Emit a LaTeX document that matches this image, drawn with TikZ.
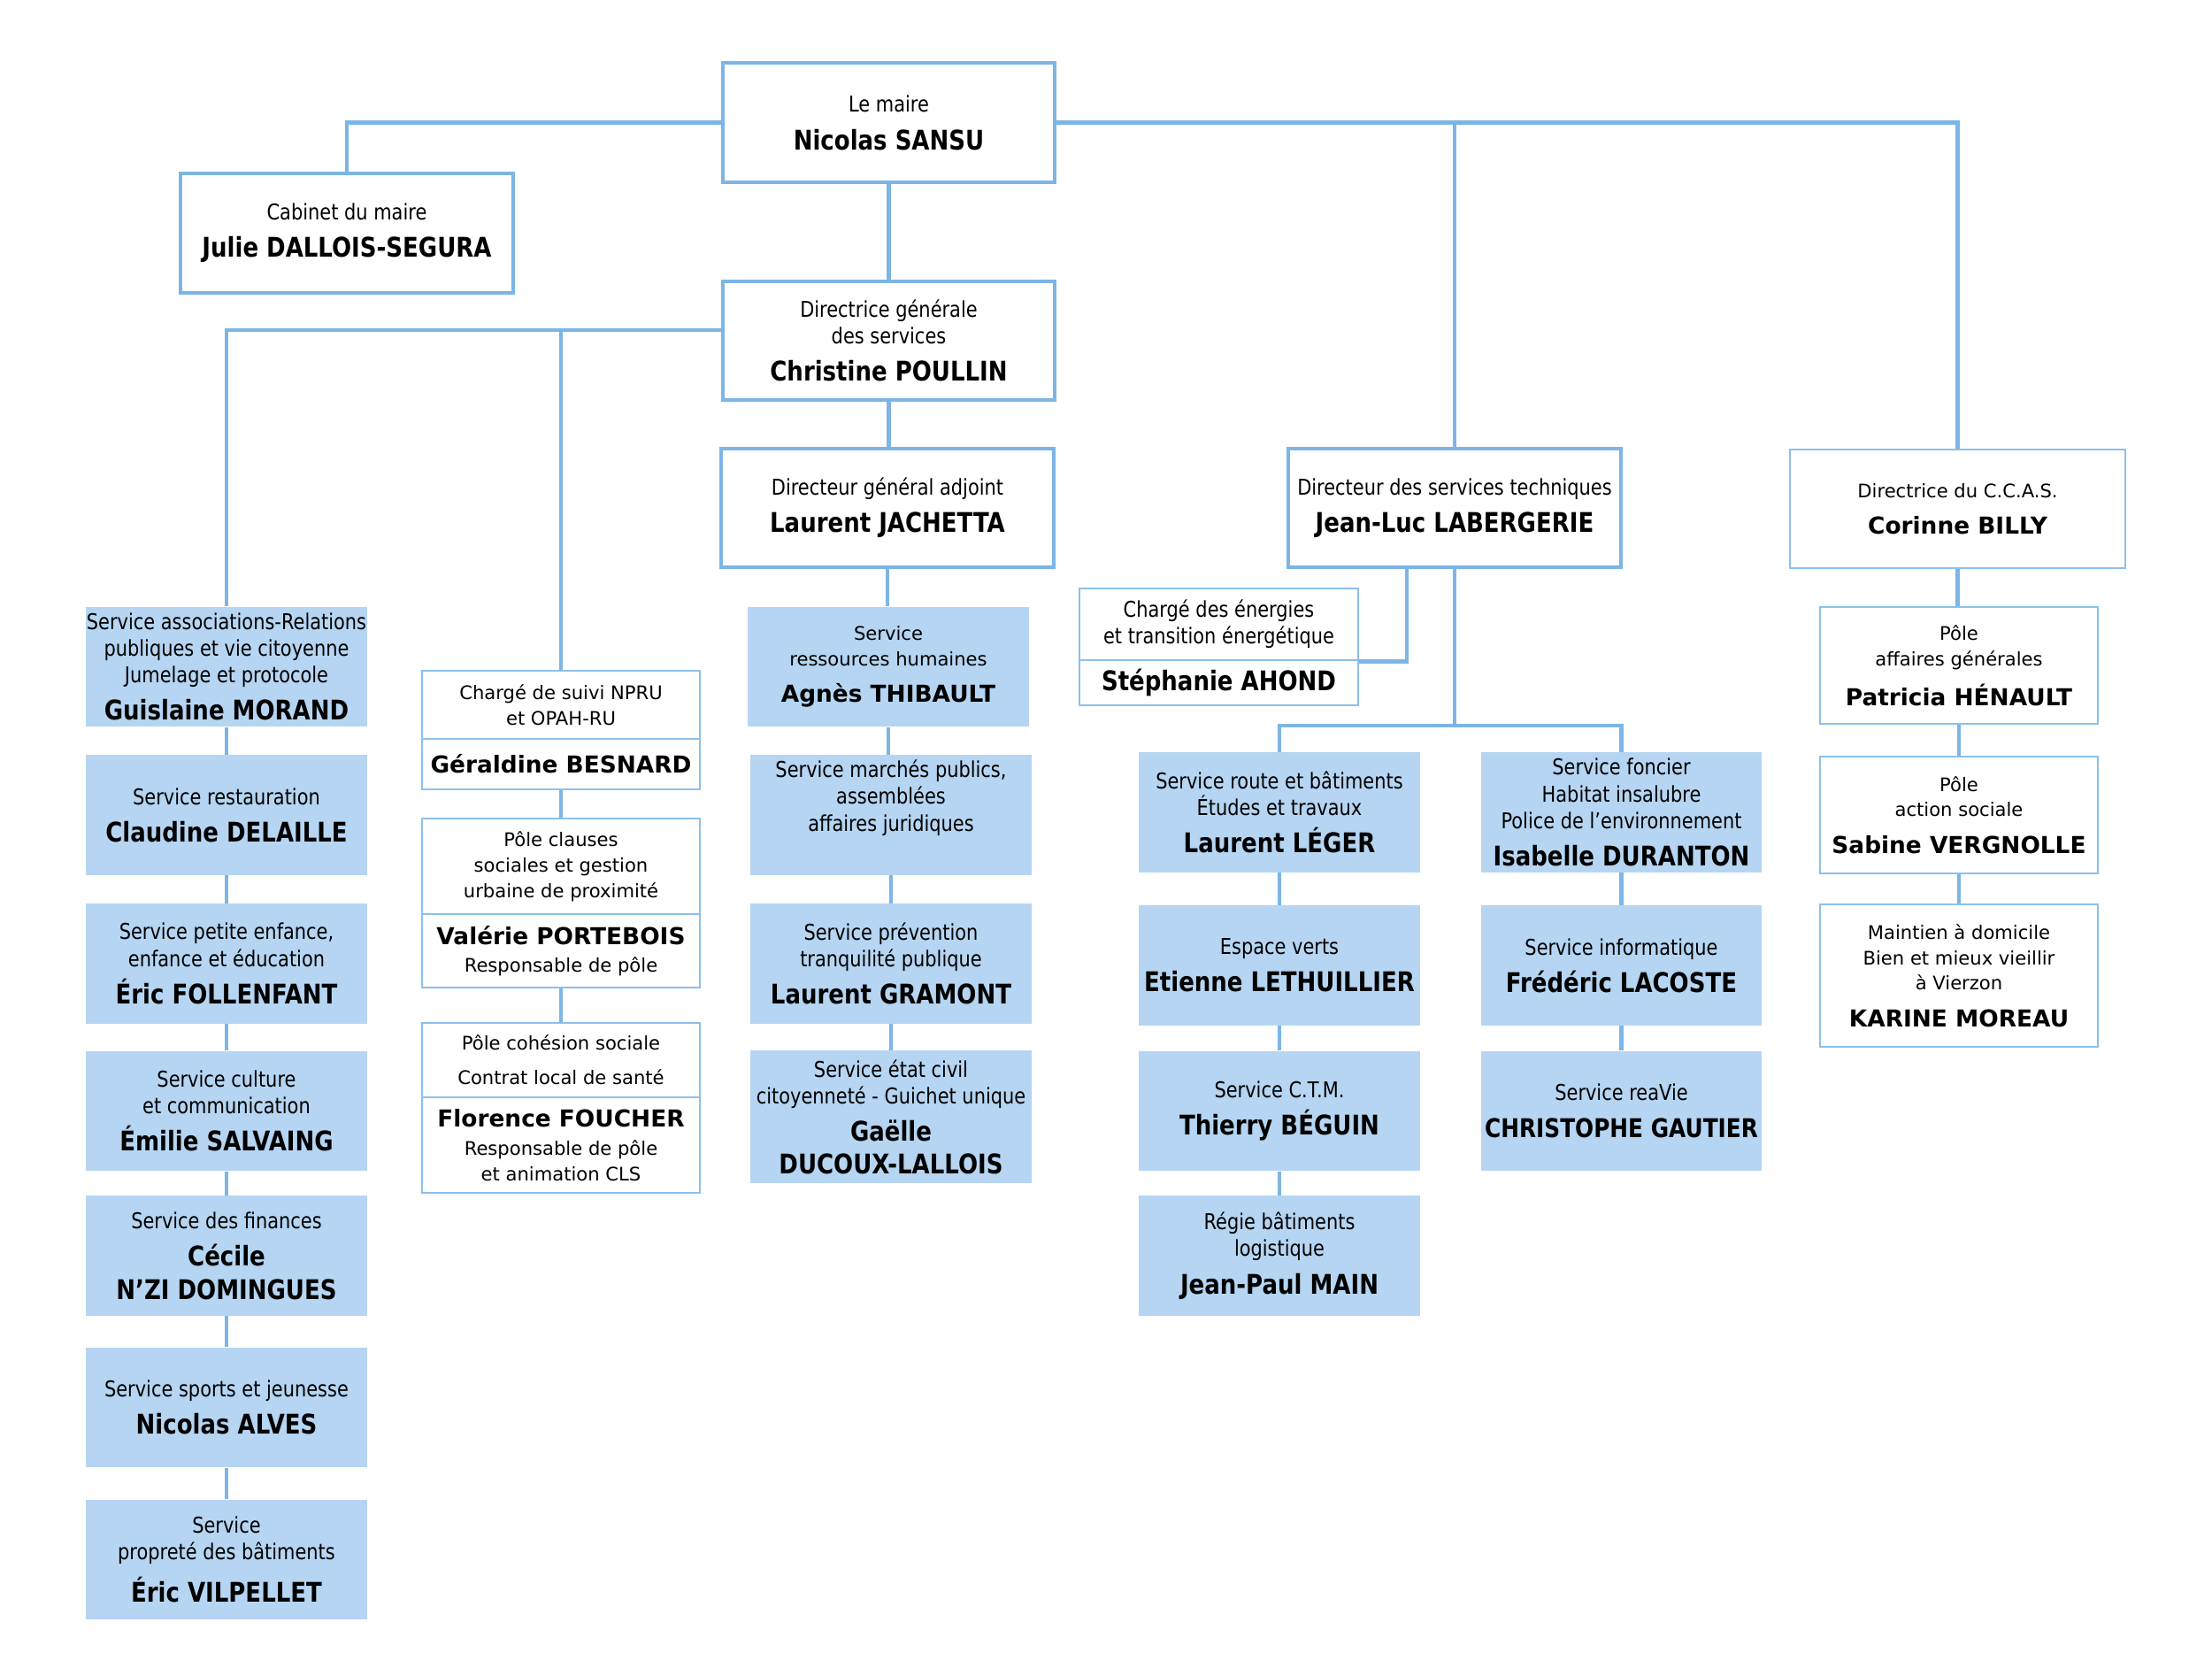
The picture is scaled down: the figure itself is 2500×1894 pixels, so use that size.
\documentclass[tikz,border=0pt]{standalone}
\usepackage{fontspec}
\newfontfamily\tahfont[FakeStretch=0.85]{DejaVu Sans}
\newfontfamily\verfont{DejaVu Sans}
\newcommand\tah{\tahfont\fontsize{7}{8.6}\selectfont}
\newcommand\ver{\verfont\fontsize{6}{8.2}\selectfont}
\newcommand\nm[1]{{\bfseries\fontsize{8.7}{10}\selectfont #1}}
\newcommand\vnm[1]{{\bfseries\fontsize{7.5}{9}\selectfont #1}}
\definecolor{linkblue}{RGB}{124,181,230}
\definecolor{thinblue}{RGB}{140,192,236}
\definecolor{svcblue}{RGB}{181,213,242}
\tikzset{
	link/.style={draw=linkblue,line width=1.3pt},
	chef/.style={draw=linkblue,line width=1.15pt,fill=white,minimum width=3.75cm,minimum height=1.34cm,inner sep=0pt,align=center,font=\tah},
	svc/.style={fill=svcblue,minimum width=3.17cm,minimum height=1.35cm,inner sep=0pt,align=center,font=\tah},
	pole/.style={draw=thinblue,line width=0.7pt,fill=white,minimum width=3.14cm,inner sep=0pt,align=center,font=\ver}
}

\begin{document}
\begin{tikzpicture}[x=0.01cm,y=-0.01cm]
		\useasboundingbox (0,0) rectangle (2500,1894);

		\node[chef] at (1004.5,138.5) (maire) {Le maire\\[3.6pt]\nm{Nicolas SANSU}};
		\node[chef,minimum width=3.76cm] at (392,263.5) (cab) {Cabinet du maire\\[3.4pt]\nm{Julie DALLOIS-SEGURA}};
		\node[chef] at (1004.5,385) (dgs) {Directrice générale\\des services\\[3.4pt]\nm{Christine POULLIN}};
		\node[chef] at (1003,574) (dga) {Directeur général adjoint\\[3.4pt]\nm{Laurent JACHETTA}};
		\node[chef,minimum width=3.76cm] at (1644,574) (dst) {Directeur des services techniques\\[3.4pt]\nm{Jean-Luc LABERGERIE}};
		\node[pole,minimum width=3.79cm,minimum height=1.34cm] at (2212.5,575) (ccas) {Directrice du C.C.A.S.\\[3.6pt]\vnm{Corinne BILLY}};

		\node[svc] at (256,753.5) (asso) {Service associations-Relations\\publiques et vie citoyenne\\Jumelage et protocole\\[3.4pt]\nm{Guislaine MORAND}};
		\node[svc] at (256,921) (resto) {Service restauration\\[3.4pt]\nm{Claudine DELAILLE}};
		\node[svc] at (256,1089) (enfance) {Service petite enfance,\\enfance et éducation\\[3.4pt]\nm{Éric FOLLENFANT}};
		\node[svc] at (256,1255.5) (culture) {Service culture\\et communication\\[3.4pt]\nm{Émilie SALVAING}};
		\node[svc] at (256,1419) (finances) {Service des finances\\[3.4pt]\nm{Cécile}\\[2.2pt]\nm{N’ZI DOMINGUES}};
		\node[svc] at (256,1590.5) (sports) {Service sports et jeunesse\\[3.4pt]\nm{Nicolas ALVES}};
		\node[svc] at (256,1762.5) (proprete) {Service\\propreté des bâtiments\\[3.2pt]\nm{Éric VILPELLET}};

		\node[pole,minimum height=0.77cm] at (634,796.5) (npru) {Chargé de suivi NPRU\\et OPAH-RU};
		\node[pole,minimum height=0.57cm] at (634,863.5) (npruB) {\vnm{Géraldine BESNARD}};
		\node[pole,minimum height=1.08cm] at (634,979) (clauses) {Pôle clauses\\sociales et gestion\\urbaine de proximité};
		\node[pole,minimum height=0.83cm] at (634,1074.5) (clausesB) {\vnm{Valérie PORTEBOIS}\\[0.8pt]Responsable de pôle};
		\node[pole,minimum height=0.84cm] at (634,1198) (cohesion) {Pôle cohésion sociale\\[3pt]Contrat local de santé};
		\node[pole,minimum height=1.08cm] at (634,1294) (cohesionB) {\vnm{Florence FOUCHER}\\[0.8pt]Responsable de pôle\\et animation CLS};

		\node[svc,font=\ver] at (1004,753.5) (rh) {Service\\ressources humaines\\[3.6pt]\vnm{Agnès THIBAULT}};
		\node[svc,text depth=12.5pt] at (1007,921) (marches) {Service marchés publics,\\assemblées\\affaires juridiques};
		\node[svc] at (1007,1089) (prevention) {Service prévention\\tranquilité publique\\[3.4pt]\nm{Laurent GRAMONT}};
		\node[svc,minimum height=1.49cm] at (1007,1262) (etatcivil) {Service état civil\\citoyenneté - Guichet unique\\[3.4pt]\nm{Gaëlle}\\[1.8pt]\nm{DUCOUX-LALLOIS}};

		\node[pole,font=\tah,minimum width=3.15cm,minimum height=0.81cm] at (1377.5,705.5) (energies) {Chargé des énergies\\et transition énergétique};
		\node[pole,font=\tah,minimum width=3.15cm,minimum height=0.51cm] at (1377.5,771.5) (energiesB) {\nm{Stéphanie AHOND}};
		\coordinate (tech) at (1644,820);

		\node[svc] at (1446,918) (route) {Service route et bâtiments\\Études et travaux\\[3.4pt]\nm{Laurent LÉGER}};
		\node[svc] at (1446,1091) (verts) {Espace verts\\[3.4pt]\nm{Etienne LETHUILLIER}};
		\node[svc] at (1446,1255.5) (ctm) {Service C.T.M.\\[3.4pt]\nm{Thierry BÉGUIN}};
		\node[svc] at (1446,1419) (regie) {Régie bâtiments\\logistique\\[3.4pt]\nm{Jean-Paul MAIN}};

		\node[svc] at (1832.5,918) (foncier) {Service foncier\\Habitat insalubre\\Police de l’environnement\\[3.4pt]\nm{Isabelle DURANTON}};
		\node[svc] at (1832.5,1091) (info) {Service informatique\\[3.4pt]\nm{Frédéric LACOSTE}};
		\node[svc] at (1832.5,1255.5) (reavie) {Service reaVie\\[3.4pt]{\bfseries\fontsize{8.3}{10}\selectfont CHRISTOPHE GAUTIER}};

		\node[pole,minimum height=1.32cm] at (2214,752) (patricia) {Pôle\\affaires générales\\[3.6pt]\vnm{Patricia HÉNAULT}};
		\node[pole,minimum height=1.32cm] at (2214,921) (sabine) {Pôle\\action sociale\\[3.6pt]\vnm{Sabine VERGNOLLE}};
		\node[pole,minimum height=1.61cm] at (2214,1102.5) (karine) {Maintien à domicile\\Bien et mieux vieillir\\à Vierzon\\[3.6pt]\vnm{KARINE MOREAU}};

		\draw[link] (maire.west) -| (cab.north);
		\draw[link] (maire.south) -- (dgs.north);
		\draw[link] (maire.east) -| (ccas.north);
		\draw[link] (dst.north) -- (dst.north |- maire.east);

		\draw[link] ([yshift=0.12cm]dgs.west) -| (asso.north);
		\draw[link] (npru.north) |- ([yshift=0.12cm]dgs.west);
		\draw[link] (dgs.south) -- (dgs.south |- dga.north);

		\draw[link] (dst.south) -- (tech);
		\draw[link] (route.north) |- (tech) -| (foncier.north);
		\draw[link] ([xshift=-0.54cm]dst.south) |- (energies.south east);

		\foreach \a/\b in {asso/resto,resto/enfance,enfance/culture,culture/finances,finances/sports,sports/proprete,
			npruB/clauses,clausesB/cohesion,dga/rh,rh/marches,marches/prevention,prevention/etatcivil,
			route/verts,verts/ctm,ctm/regie,foncier/info,info/reavie,ccas/patricia,patricia/sabine,sabine/karine}
			\draw[link] (\a.south) -- (\a.south |- \b.north);
	\end{tikzpicture}
\end{document}
